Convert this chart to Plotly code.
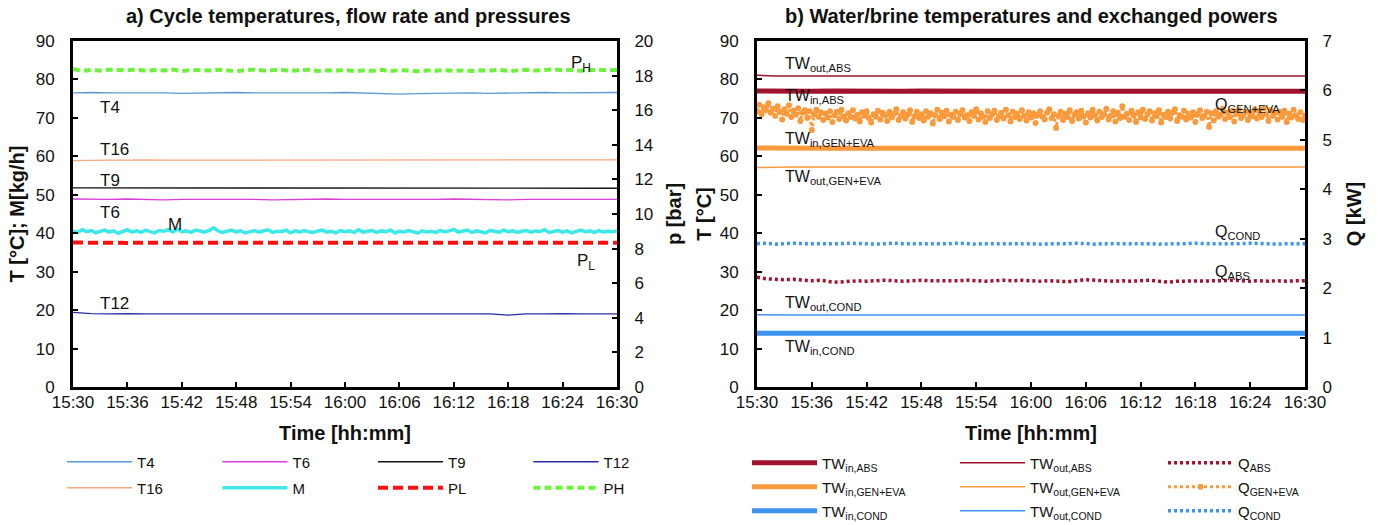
import pandas as pd
import plotly.graph_objects as go

FONT = "Liberation Sans, Arial, sans-serif"
W, H = 1378, 525

# ---------------------------------------------------------------- time axes
DAY = "2021-07-15"
t_start = pd.Timestamp(f"{DAY} 15:30")
t_end = pd.Timestamp(f"{DAY} 16:30")
time_2min = pd.date_range(t_start, t_end, freq="2min")
time_1min = pd.date_range(t_start, t_end, freq="1min")
time_30s = pd.date_range(t_start, t_end, freq="30s")
time_15s = pd.date_range(t_start, t_end, freq="15s")

# ---------------------------------------------------------------- panel a) data
# cycle temperatures [°C], sampled every 2 min
T4 = [76.5, 76.6, 76.5, 76.5, 76.6, 76.5, 76.4, 76.5, 76.5, 76.6, 76.5, 76.5, 76.4, 76.5, 76.5, 76.6,
      76.5, 76.3, 76.2, 76.3, 76.4, 76.5, 76.5, 76.4, 76.5, 76.5, 76.6, 76.5, 76.5, 76.5, 76.6]
T6 = [48.9, 48.8, 48.8, 48.9, 48.8, 48.7, 48.8, 48.8, 48.9, 48.8, 48.8, 48.7, 48.8, 48.8, 48.9, 48.8,
      48.8, 48.8, 48.7, 48.8, 48.8, 48.9, 48.8, 48.8, 48.7, 48.8, 48.8, 48.8, 48.9, 48.8, 48.8]
T9 = [51.8, 51.8, 51.7, 51.7, 51.8, 51.7, 51.7, 51.7, 51.8, 51.7, 51.7, 51.7, 51.7, 51.8, 51.7, 51.7,
      51.7, 51.7, 51.7, 51.7, 51.8, 51.7, 51.7, 51.7, 51.7, 51.7, 51.7, 51.8, 51.7, 51.7, 51.7]
T12 = [19.4, 19.1, 19.0, 19.1, 19.0, 19.0, 19.1, 19.0, 19.0, 19.1, 19.0, 19.0, 19.0, 19.1, 19.0, 19.0,
       19.0, 19.1, 19.0, 19.0, 19.0, 19.1, 19.0, 19.0, 18.7, 19.0, 19.0, 19.1, 19.0, 19.0, 19.0]
T16 = [58.9, 59.0, 59.0, 59.0, 59.1, 59.0, 59.0, 59.0, 59.0, 59.1, 59.0, 59.0, 59.0, 59.0, 59.0, 59.1,
       59.0, 59.0, 59.0, 59.0, 59.0, 59.0, 59.1, 59.0, 59.0, 59.0, 59.0, 59.1, 59.1, 59.1, 59.1]

# refrigerant mass flow rate [kg/h], sampled every 30 s
M = [40.6, 40.2, 40.9, 40.4, 40.7, 40.1, 40.5, 40.8, 40.3, 40.6,
     40.0, 40.5, 40.9, 40.3, 40.6, 40.2, 40.8, 40.4, 40.1, 40.7,
     40.5, 40.9, 40.3, 41.1, 40.4, 40.6, 40.2, 40.8, 40.5, 40.3,
     40.7, 41.4, 40.6, 40.2, 40.5, 40.8, 40.3, 40.6, 40.1, 40.4,
     40.7, 40.3, 40.6, 40.9, 40.2, 40.5, 40.4, 40.8, 40.1, 40.6,
     40.3, 40.7, 40.4, 40.2, 40.6, 40.8, 40.3, 40.5, 40.1, 40.7,
     40.4, 40.6, 40.2, 40.9, 40.3, 40.5, 40.7, 40.2, 40.6, 40.4,
     40.8, 40.1, 40.5, 40.3, 40.7, 40.4, 40.0, 40.6, 40.3, 40.5,
     40.2, 40.7, 40.4, 40.6, 41.0, 40.3, 40.5, 40.8, 40.2, 40.6,
     40.4, 40.1, 40.7, 40.5, 40.3, 40.8, 40.4, 40.6, 40.2, 40.5,
     40.7, 40.3, 40.6, 40.4, 40.9, 40.2, 40.5, 40.7, 40.3, 40.6,
     40.1, 40.5, 40.8, 40.4, 40.6, 40.2, 40.7, 40.3, 40.5, 40.4,
     40.6]

# low / high pressure [bar], sampled every minute
PL = [8.35, 8.34, 8.34, 8.35, 8.34, 8.34, 8.33, 8.34, 8.34, 8.35, 8.34, 8.34, 8.34, 8.33, 8.34, 8.34,
      8.35, 8.34, 8.34, 8.34, 8.33, 8.34, 8.34, 8.34, 8.35, 8.34, 8.34, 8.33, 8.34, 8.34, 8.34, 8.34,
      8.35, 8.34, 8.34, 8.33, 8.34, 8.34, 8.34, 8.34, 8.35, 8.34, 8.33, 8.34, 8.34, 8.34, 8.34, 8.35,
      8.34, 8.34, 8.33, 8.34, 8.34, 8.34, 8.35, 8.34, 8.34, 8.34, 8.33, 8.34, 8.34]
PH = [18.38, 18.27, 18.33, 18.29, 18.34, 18.30, 18.31, 18.36, 18.28, 18.32,
      18.30, 18.35, 18.27, 18.31, 18.33, 18.29, 18.34, 18.30, 18.26, 18.32,
      18.35, 18.29, 18.31, 18.33, 18.28, 18.30, 18.34, 18.27, 18.31, 18.29,
      18.32, 18.26, 18.30, 18.28, 18.33, 18.27, 18.31, 18.29, 18.25, 18.30,
      18.28, 18.32, 18.27, 18.30, 18.26, 18.31, 18.29, 18.33, 18.28, 18.30,
      18.34, 18.29, 18.32, 18.36, 18.30, 18.33, 18.28, 18.31, 18.34, 18.30,
      18.32]

# ---------------------------------------------------------------- panel b) data
# water/brine temperatures [°C], sampled every 2 min
TW_IN_ABS = [77.0, 76.9, 76.9, 76.9, 77.0, 76.9, 76.9, 76.9, 76.9, 77.0, 76.9, 76.9, 76.9, 76.9, 76.9, 77.0,
             76.9, 76.9, 76.9, 76.9, 76.9, 77.0, 76.9, 76.9, 76.9, 76.9, 76.9, 77.0, 76.9, 76.9, 76.9]
TW_OUT_ABS = [81.1, 80.9, 80.9, 80.9, 80.9, 80.9, 80.9, 80.9, 80.9, 80.9, 80.9, 80.9, 80.9, 80.9, 80.8, 80.9,
              80.9, 80.9, 80.9, 80.9, 80.9, 80.9, 80.8, 80.9, 80.9, 80.9, 80.9, 80.9, 80.9, 80.9, 80.9]
TW_IN_GEN = [62.2, 62.1, 62.1, 62.1, 62.1, 62.1, 62.2, 62.1, 62.1, 62.1, 62.1, 62.1, 62.1, 62.2, 62.1, 62.1,
             62.1, 62.1, 62.1, 62.1, 62.2, 62.1, 62.1, 62.1, 62.1, 62.1, 62.1, 62.2, 62.1, 62.1, 62.1]
TW_OUT_GEN = [57.1, 57.2, 57.2, 57.2, 57.2, 57.2, 57.2, 57.2, 57.2, 57.2, 57.3, 57.2, 57.2, 57.2, 57.2, 57.2,
              57.2, 57.2, 57.2, 57.3, 57.2, 57.2, 57.2, 57.2, 57.2, 57.2, 57.2, 57.2, 57.3, 57.2, 57.2]
TW_IN_COND = [14.0, 14.0, 14.0, 14.0, 14.0, 14.0, 14.0, 14.0, 14.0, 14.0, 14.0, 14.0, 14.0, 14.0, 14.0, 14.0,
              14.0, 14.0, 14.0, 14.0, 14.0, 14.0, 14.0, 14.0, 14.0, 14.0, 14.0, 14.0, 14.0, 14.0, 14.0]
TW_OUT_COND = [18.8, 18.7, 18.7, 18.7, 18.7, 18.7, 18.7, 18.7, 18.7, 18.7, 18.7, 18.7, 18.7, 18.7, 18.7, 18.7,
               18.7, 18.7, 18.7, 18.7, 18.7, 18.7, 18.7, 18.7, 18.7, 18.7, 18.7, 18.7, 18.7, 18.7, 18.7]

# exchanged powers [kW]
Q_ABS = [2.22, 2.19, 2.18, 2.17, 2.18, 2.17, 2.15, 2.16, 2.13, 2.12,
         2.14, 2.15, 2.14, 2.15, 2.16, 2.15, 2.14, 2.15, 2.16, 2.15,
         2.15, 2.14, 2.15, 2.16, 2.15, 2.14, 2.15, 2.16, 2.15, 2.16,
         2.15, 2.14, 2.15, 2.14, 2.13, 2.15, 2.17, 2.16, 2.15, 2.14,
         2.15, 2.14, 2.15, 2.16, 2.14, 2.12, 2.14, 2.14, 2.15, 2.15,
         2.14, 2.15, 2.16, 2.15, 2.14, 2.15, 2.14, 2.15, 2.14, 2.15,
         2.15]
Q_COND = [2.90, 2.91, 2.89, 2.90, 2.91, 2.90, 2.90, 2.89, 2.90, 2.90,
          2.91, 2.90, 2.90, 2.89, 2.90, 2.91, 2.90, 2.90, 2.90, 2.89,
          2.90, 2.90, 2.91, 2.90, 2.89, 2.90, 2.90, 2.90, 2.91, 2.90,
          2.90, 2.89, 2.90, 2.90, 2.90, 2.91, 2.90, 2.89, 2.90, 2.90,
          2.90, 2.91, 2.90, 2.90, 2.89, 2.90, 2.90, 2.90, 2.91, 2.90,
          2.90, 2.89, 2.90, 2.90, 2.91, 2.90, 2.90, 2.89, 2.90, 2.90,
          2.90]
# generator + evaporator power, sampled every 15 s
Q_GEN = [5.58, 5.71, 5.52, 5.66, 5.60, 5.74, 5.55, 5.63, 5.49, 5.68,
         5.57, 5.41, 5.62, 5.53, 5.70, 5.46, 5.59, 5.51, 5.64, 5.38,
         5.55, 5.60, 5.44, 5.58, 5.20, 5.52, 5.61, 5.47, 5.56, 5.40,
         5.53, 5.45, 5.58, 5.36, 5.50, 5.57, 5.42, 5.61, 5.48, 5.39,
         5.54, 5.46, 5.60, 5.43, 5.51, 5.37, 5.56, 5.49, 5.58, 5.44,
         5.35, 5.52, 5.47, 5.59, 5.41, 5.55, 5.50, 5.38, 5.57, 5.45,
         5.53, 5.62, 5.40, 5.49, 5.56, 5.43, 5.51, 5.60, 5.36, 5.48,
         5.57, 5.44, 5.52, 5.39, 5.58, 5.47, 5.54, 5.33, 5.50, 5.61,
         5.42, 5.55, 5.48, 5.59, 5.37, 5.51, 5.46, 5.57, 5.40, 5.53,
         5.60, 5.45, 5.50, 5.38, 5.56, 5.49, 5.62, 5.41, 5.54, 5.47,
         5.36, 5.58, 5.44, 5.52, 5.59, 5.40, 5.48, 5.55, 5.43, 5.61,
         5.50, 5.37, 5.57, 5.46, 5.53, 5.42, 5.60, 5.49, 5.39, 5.56,
         5.45, 5.54, 5.34, 5.51, 5.58, 5.47, 5.41, 5.55, 5.62, 5.44,
         5.52, 5.24, 5.49, 5.57, 5.40, 5.53, 5.46, 5.60, 5.38, 5.51,
         5.56, 5.43, 5.59, 5.48, 5.35, 5.54, 5.45, 5.61, 5.50, 5.39,
         5.57, 5.46, 5.52, 5.63, 5.41, 5.49, 5.58, 5.37, 5.55, 5.44,
         5.68, 5.47, 5.53, 5.40, 5.59, 5.50, 5.36, 5.56, 5.45, 5.61,
         5.42, 5.52, 5.58, 5.39, 5.54, 5.48, 5.60, 5.35, 5.51, 5.46,
         5.57, 5.43, 5.55, 5.62, 5.38, 5.50, 5.47, 5.59, 5.41, 5.53,
         5.45, 5.56, 5.36, 5.52, 5.60, 5.44, 5.49, 5.57, 5.26, 5.54,
         5.39, 5.58, 5.47, 5.51, 5.63, 5.42, 5.55, 5.46, 5.59, 5.37,
         5.53, 5.61, 5.44, 5.50, 5.57, 5.40, 5.56, 5.48, 5.62, 5.43,
         5.58, 5.46, 5.64, 5.52, 5.38, 5.60, 5.49, 5.55, 5.41, 5.57,
         5.47, 5.59, 5.36, 5.53, 5.45, 5.61, 5.50, 5.42, 5.56, 5.40,
         5.49]

# ---------------------------------------------------------------- colours
C_T4, C_T6, C_T9, C_T12, C_T16 = "#5B9BD5", "#D93ED9", "#111111", "#2B2BA6", "#F4A582"
C_M, C_PL, C_PH = "#3EE8E8", "#FF1010", "#6CF23A"
C_ABS, C_GEN, C_COND = "#A0122E", "#FA9A3C", "#3D94EE"

fig = go.Figure()


def line(x, y, name, color, width, xa, ya, legend, dash="solid", mode="lines", msize=0):
    fig.add_trace(go.Scatter(
        x=x, y=y, name=name, mode=mode, xaxis=xa, yaxis=ya, legend=legend,
        line=dict(color=color, width=width, dash=dash),
        marker=dict(color=color, size=msize), hoverinfo="skip"))


# panel a)
line(time_2min, T4, "T4", C_T4, 1.3, "x", "y", "legend")
line(time_2min, T6, "T6", C_T6, 1.3, "x", "y", "legend")
line(time_2min, T9, "T9", C_T9, 1.3, "x", "y", "legend")
line(time_2min, T12, "T12", C_T12, 1.3, "x", "y", "legend")
line(time_2min, T16, "T16", C_T16, 1.3, "x", "y", "legend2")
line(time_30s, M, "M", C_M, 3.5, "x", "y", "legend2")
line(time_1min, PL, "PL", C_PL, 4, "x", "y2", "legend2", dash="10px,5px")
line(time_1min, PH, "PH", C_PH, 4, "x", "y2", "legend2", dash="7px,4px")

# panel b)
line(time_2min, TW_IN_ABS, "TW<sub>in,ABS</sub>", C_ABS, 5, "x2", "y3", "legend3")
line(time_2min, TW_OUT_ABS, "TW<sub>out,ABS</sub>", C_ABS, 1.5, "x2", "y3", "legend3")
line(time_1min, Q_ABS, "Q<sub>ABS</sub>", C_ABS, 3.5, "x2", "y4", "legend3", dash="3px,3px")
line(time_2min, TW_IN_GEN, "TW<sub>in,GEN+EVA</sub>", C_GEN, 5, "x2", "y3", "legend4")
line(time_2min, TW_OUT_GEN, "TW<sub>out,GEN+EVA</sub>", C_GEN, 1.5, "x2", "y3", "legend4")
line(time_15s, Q_GEN, "Q<sub>GEN+EVA</sub>", C_GEN, 3, "x2", "y4", "legend4", dash="3px,3px",
     mode="lines+markers", msize=6)
line(time_2min, TW_IN_COND, "TW<sub>in,COND</sub>", C_COND, 5, "x2", "y3", "legend5")
line(time_2min, TW_OUT_COND, "TW<sub>out,COND</sub>", C_COND, 1.5, "x2", "y3", "legend5")
line(time_1min, Q_COND, "Q<sub>COND</sub>", C_COND, 3.5, "x2", "y4", "legend5", dash="3px,3px")

# ---------------------------------------------------------------- axes
TICKFONT = dict(family=FONT, size=17, color="#111111")
TITLEFONT = dict(family=FONT, size=20, color="#111111")
Y_DOM = [1 - 387 / H, 1 - 41 / H]
XA_DOM = [73 / W, 617 / W]
XB_DOM = [757 / W, 1305 / W]

frame = dict(showline=True, linecolor="black", linewidth=3, showgrid=False, zeroline=False,
             ticks="inside", ticklen=5, tickwidth=2, tickcolor="black", tickfont=TICKFONT,
             automargin=False)
xcommon = dict(frame, type="date", range=[t_start, t_end], tick0=t_start, dtick=6 * 60 * 1000,
               tickformat="%H:%M", mirror=True, ticklabelstandoff=-2)
yleft = dict(frame, domain=Y_DOM, range=[0, 90], dtick=10, mirror=True, ticklabelstandoff=12)
yright = dict(frame, side="right", ticklabelstandoff=11)

fig.update_layout(
    xaxis=dict(xcommon, domain=XA_DOM, anchor="y",
               title=dict(text="<b>Time [hh:mm]</b>", font=TITLEFONT, standoff=15)),
    yaxis=dict(yleft, anchor="x",
               title=dict(text="<b>T [°C]; M[kg/h]</b>", font=TITLEFONT, standoff=6)),
    yaxis2=dict(yright, overlaying="y", anchor="x", range=[0, 20], dtick=2,
                title=dict(text="<b>p [bar]</b>", font=TITLEFONT, standoff=15)),
    xaxis2=dict(xcommon, domain=XB_DOM, anchor="y3",
                title=dict(text="<b>Time [hh:mm]</b>", font=TITLEFONT, standoff=15)),
    yaxis3=dict(yleft, anchor="x2",
                title=dict(text="<b>T [°C]</b>", font=TITLEFONT, standoff=3)),
    yaxis4=dict(yright, overlaying="y3", anchor="x2", range=[0, 7], dtick=1,
                title=dict(text="<b>Q [kW]</b>", font=TITLEFONT, standoff=17)),
)

# ---------------------------------------------------------------- legends (one per row)
LEGFONT = dict(family=FONT, size=15, color="#111111")
leg = dict(orientation="h", font=LEGFONT, itemwidth=65, entrywidth=75.5, entrywidthmode="pixels",
           xanchor="left", yanchor="middle", bgcolor="rgba(0,0,0,0)", borderwidth=0)
legb = dict(leg, entrywidth=128)
fig.update_layout(
    showlegend=True,
    legend=dict(leg, x=62 / W, y=1 - 462 / H),
    legend2=dict(leg, x=62 / W, y=1 - 488 / H),
    legend3=dict(legb, x=747 / W, y=1 - 463 / H),
    legend4=dict(legb, x=747 / W, y=1 - 487 / H),
    legend5=dict(legb, x=747 / W, y=1 - 511 / H),
)

# ---------------------------------------------------------------- labels
ANN_A = dict(family=FONT, size=17, color="#111111")
ANN_B = dict(family=FONT, size=16, color="#111111")


def label(text, t, y, xref, yref, font):
    fig.add_annotation(text=text, x=pd.Timestamp(f"{DAY} {t}"), y=y, xref=xref, yref=yref,
                       xanchor="left", yanchor="middle", showarrow=False, font=font)


label("P<sub>H</sub>", "16:24:42", 84.0, "x", "y", ANN_A)
label("T4", "15:32:45", 72.6, "x", "y", ANN_A)
label("T16", "15:32:45", 61.8, "x", "y", ANN_A)
label("T9", "15:32:45", 53.6, "x", "y", ANN_A)
label("T6", "15:32:45", 45.4, "x", "y", ANN_A)
label("M", "15:40:15", 42.3, "x", "y", ANN_A)
label("P<sub>L</sub>", "16:25:22", 32.5, "x", "y", ANN_A)
label("T12", "15:32:45", 21.8, "x", "y", ANN_A)

label("TW<sub>out,ABS</sub>", "15:32:51", 83.9, "x2", "y3", ANN_B)
label("TW<sub>in,ABS</sub>", "15:32:51", 75.6, "x2", "y3", ANN_B)
label("Q<sub>GEN+EVA</sub>", "16:19:56", 73.1, "x2", "y3", ANN_B)
label("TW<sub>in,GEN+EVA</sub>", "15:32:51", 64.5, "x2", "y3", ANN_B)
label("TW<sub>out,GEN+EVA</sub>", "15:32:51", 54.6, "x2", "y3", ANN_B)
label("Q<sub>COND</sub>", "16:19:56", 40.1, "x2", "y3", ANN_B)
label("Q<sub>ABS</sub>", "16:19:56", 29.7, "x2", "y3", ANN_B)
label("TW<sub>out,COND</sub>", "15:32:51", 21.7, "x2", "y3", ANN_B)
label("TW<sub>in,COND</sub>", "15:32:51", 10.4, "x2", "y3", ANN_B)

# panel titles
TITLE_FONT = dict(family=FONT, size=20, color="#111111")
for txt, xc in [("<b>a) Cycle temperatures, flow rate and pressures</b>", 349),
                ("<b>b) Water/brine temperatures and exchanged powers</b>", 1031)]:
    fig.add_annotation(text=txt, x=xc / W, y=1 - 16 / H, xref="paper", yref="paper",
                       xanchor="center", yanchor="middle", showarrow=False, font=TITLE_FONT)

fig.update_layout(width=W, height=H, margin=dict(l=0, r=0, t=0, b=0, autoexpand=False),
                  paper_bgcolor="white", plot_bgcolor="white",
                  font=dict(family=FONT, color="#111111"))

fig.write_html("out.html")
